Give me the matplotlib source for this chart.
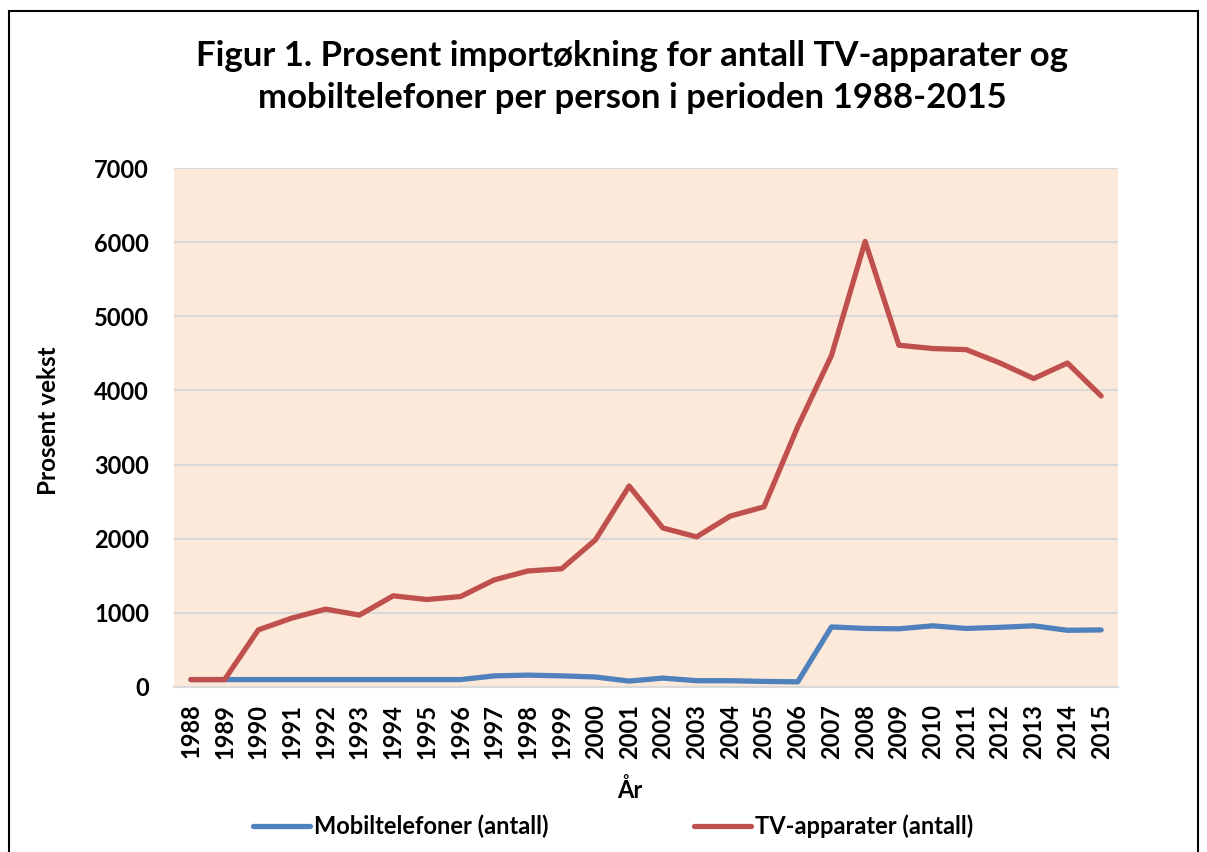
import matplotlib.pyplot as plt
from matplotlib.patches import Rectangle

years = list(range(1988, 2016))
mobil = [100, 100, 100, 100, 100, 100, 100, 100, 100, 150, 160, 150, 135, 80,
         120, 85, 85, 75, 70, 810, 790, 785, 825, 790, 805, 825, 765, 770]
tv = [100, 100, 770, 930, 1050, 970, 1230, 1180, 1220, 1445, 1565, 1595, 1985, 2710,
      2145, 2025, 2305, 2430, 3510, 4470, 6010, 4610, 4565, 4550, 4370, 4160, 4370, 3925]

plt.rcParams['font.family'] = ['Lato', 'DejaVu Sans']
plt.rcParams['font.weight'] = 'bold'

fig = plt.figure(figsize=(12.07, 8.52), dpi=100)
ax = fig.add_axes([174/1207, 1-687/852, (1118-174)/1207, (687-168)/852])
ax.set_facecolor('#FDE9D9')

l1, = ax.plot(years, mobil, color='#4F81BD', lw=3.8, solid_capstyle='round', label='Mobiltelefoner (antall)')
l2, = ax.plot(years, tv, color='#C0504D', lw=3.8, solid_capstyle='round', label='TV-apparater (antall)')

ax.set_xlim(1987.5, 2015.5)
ax.set_ylim(0, 7000)
ax.set_yticks(range(0, 7001, 1000))
ax.set_xticks(years)
ax.set_xticklabels([str(y) for y in years], rotation=90, fontsize=17, fontweight='bold')
ax.tick_params(axis='y', labelsize=17, length=0, pad=18)
ax.tick_params(axis='x', length=0, pad=12)
ax.grid(axis='y', color='#D9D9D9', lw=1.5)
ax.set_axisbelow(True)
for s in ['top', 'right', 'left']:
    ax.spines[s].set_visible(False)
ax.spines['bottom'].set_color('#D9D9D9')
ax.spines['bottom'].set_linewidth(1.5)

fig.text(49/1207, 1 - 421/852, 'Prosent vekst', fontsize=17.5, fontweight='bold',
         rotation=90, ha='center', va='center')
fig.text(0.522, 1 - 790/852, 'År', fontsize=17, fontweight='bold', ha='center', va='center')
fig.text(0.524, 1 - 77/852,
         'Figur 1. Prosent importøkning for antall TV-apparater og\nmobiltelefoner per person i perioden 1988-2015',
         fontsize=25, fontweight='bold', ha='center', va='center', linespacing=1.35)

fig.legend(handles=[l1, l2], loc='center', bbox_to_anchor=(0.508, 1 - 826/852), ncol=2,
           frameon=False, fontsize=17, handlelength=2.4, columnspacing=6.2, handletextpad=0.15)

fig.add_artist(Rectangle((9/1207, -0.05), (1198-9)/1207, 1.05 - 11/852, transform=fig.transFigure,
                         fill=False, edgecolor='black', lw=1.5))

fig.savefig('out.png', dpi=100)
